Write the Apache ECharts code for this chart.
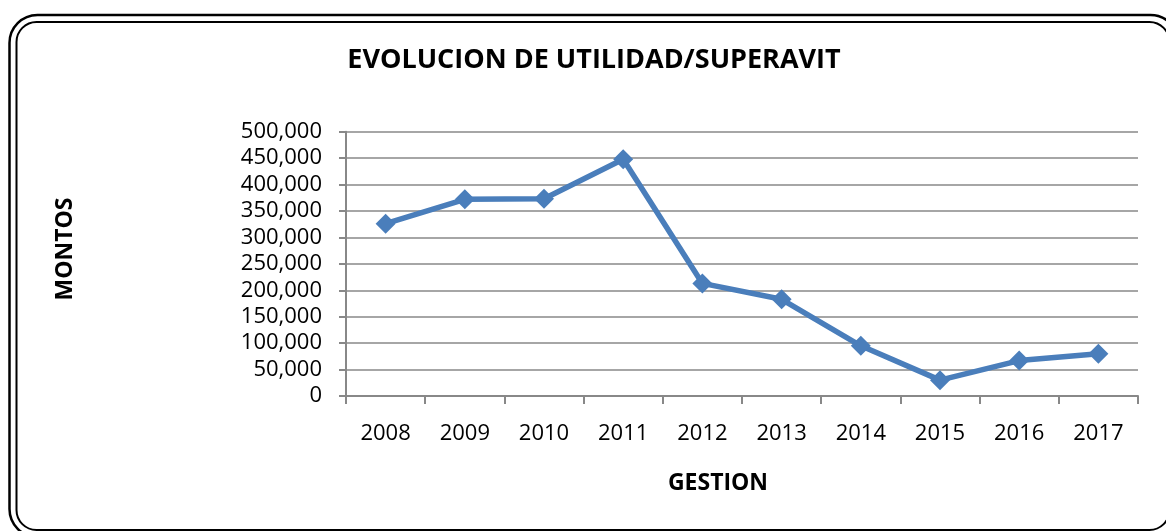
<!DOCTYPE html>
<html>
<head>
<meta charset="utf-8">
<script src="https://cdn.jsdelivr.net/npm/echarts@6/dist/echarts.min.js"></script>
<style>
html,body{margin:0;padding:0;background:#fff;}
#chart{width:1166px;height:531px;}
</style>
</head>
<body>
<div id="chart"></div>
<script>
const categories = ['2008','2009','2010','2011','2012','2013','2014','2015','2016','2017'];
const montos = [326000, 372000, 373000, 448000, 213000, 183000, 95000, 30000, 67000, 80000];
const titleText = 'EVOLUCION DE UTILIDAD/SUPERAVIT';
const yAxisName = 'MONTOS';
const xAxisName = 'GESTION';

const FONT = '"Open Sans", sans-serif';
const chart = echarts.init(document.getElementById('chart'));
chart.setOption({
  animation: false,
  backgroundColor: '#fff',
  graphic: [
    {type: 'rect', shape: {x: 9.5, y: 15, width: 1169, height: 522, r: 28}, style: {fill: 'none', stroke: '#000', lineWidth: 2.5}},
    {type: 'rect', shape: {x: 16.5, y: 22, width: 1153, height: 508, r: 20}, style: {fill: 'none', stroke: '#000', lineWidth: 2}},
    {type: 'text', x: 594, y: 60, style: {text: titleText, fontFamily: FONT, fontWeight: 'bold', fontSize: 27, fill: '#000', align: 'center', verticalAlign: 'middle'}},
    {type: 'text', x: 65, y: 249, rotation: Math.PI/2, style: {text: yAxisName, fontFamily: FONT, fontWeight: 'bold', fontSize: 23, fill: '#000', align: 'center', verticalAlign: 'middle'}},
    {type: 'text', x: 718, y: 483, style: {text: xAxisName, fontFamily: FONT, fontWeight: 'bold', fontSize: 23, fill: '#000', align: 'center', verticalAlign: 'middle'}}
  ],
  grid: {left: 346, right: 28, top: 131.7, bottom: 135},
  xAxis: {
    type: 'category',
    data: categories,
    boundaryGap: true,
    axisLine: {lineStyle: {color: '#888', width: 2}},
    axisTick: {show: true, length: 8, lineStyle: {color: '#888', width: 2}},
    axisLabel: {margin: 27, fontFamily: FONT, fontSize: 22, color: '#000'}
  },
  yAxis: {
    type: 'value',
    min: 0, max: 500000, interval: 50000,
    axisLine: {show: true, lineStyle: {color: '#888', width: 2}},
    axisTick: {show: true, length: 7, lineStyle: {color: '#888', width: 2}},
    splitLine: {lineStyle: {color: '#888', width: 1.5}},
    axisLabel: {
      margin: 24, fontFamily: FONT, fontSize: 22, color: '#000',
      formatter: v => v.toLocaleString('en-US')
    }
  },
  series: [{
    type: 'line',
    data: montos,
    symbol: 'diamond',
    symbolSize: 20,
    lineStyle: {color: '#4a7ebb', width: 5.5},
    itemStyle: {color: '#4a7ebb'}
  }]
});
</script>
</body>
</html>
